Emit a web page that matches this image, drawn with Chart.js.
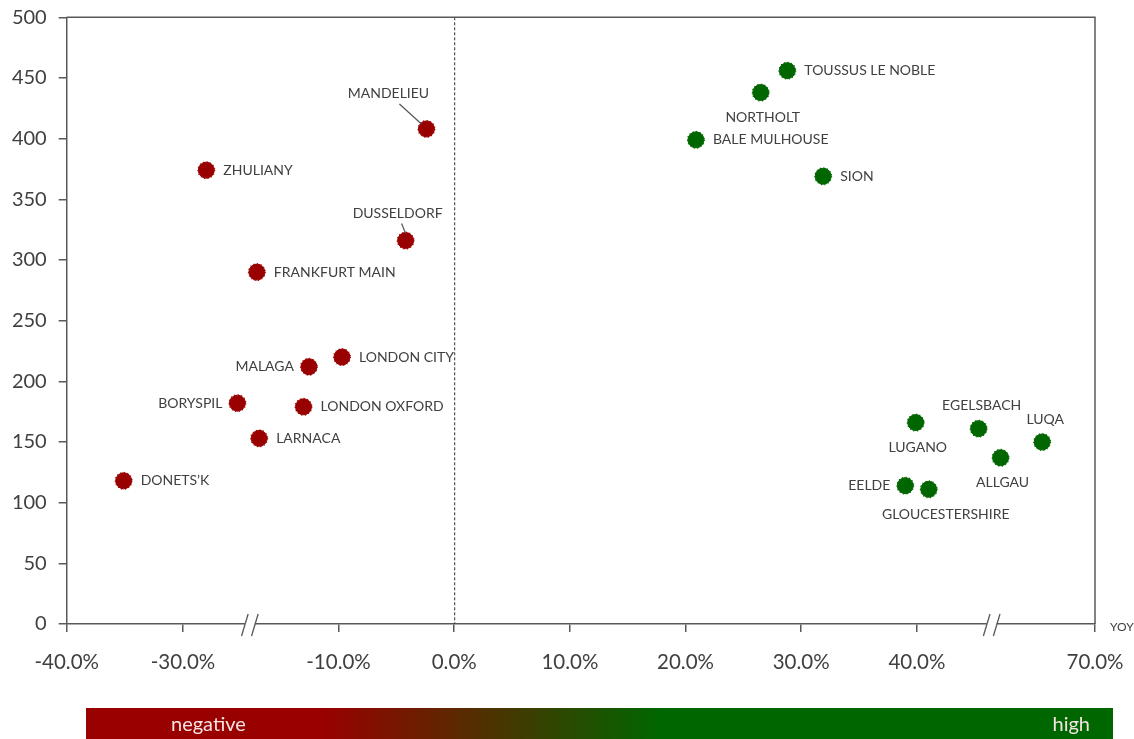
<!DOCTYPE html>
<html>
<head>
<meta charset="utf-8">
<script src="https://cdn.jsdelivr.net/npm/chart.js@4.4.1/dist/chart.umd.min.js"></script>
<style>
  html, body { margin: 0; padding: 0; background: #fff; overflow: hidden; }
  #wrap { position: relative; width: 1134px; height: 739px; }
</style>
</head>
<body>
<div id="wrap"><canvas id="chart" width="1134" height="739"></canvas></div>
<script>
// negative YoY airports
const negNames = ['MANDELIEU', 'ZHULIANY', 'DUSSELDORF', 'FRANKFURT MAIN', 'LONDON CITY', 'MALAGA', 'BORYSPIL', 'LONDON OXFORD', 'LARNACA', 'DONETS\u2019K'];
const negYoy = [-2.4, -27.0, -4.2, -20.5, -9.7, -13.8, -23.0, -14.5, -20.2, -35.1];
const negMoves = [408, 374, 316, 290, 220, 212, 182, 179, 153, 118];
const negLabelPos = ['leadFar', 'r', 'leadNear', 'r', 'r', 'l', 'l', 'r', 'r', 'r'];

// high YoY airports
const highNames = ['TOUSSUS LE NOBLE', 'NORTHOLT', 'BALE MULHOUSE', 'SION', 'LUGANO', 'EGELSBACH', 'LUQA', 'ALLGAU', 'EELDE', 'GLOUCESTERSHIRE'];
const highYoy = [28.8, 26.5, 20.9, 31.9, 39.9, 50.4, 61.1, 54.1, 39.0, 42.0];
const highMoves = [456, 438, 399, 369, 166, 161, 150, 137, 114, 111];
const highLabelPos = ['r', 'b', 'r', 'r', 'b', 'a', 'a', 'b', 'l', 'bR'];

// axis
const xTickVals = [-40, -30, -10, 0, 10, 20, 30, 40, 70];
const yTickVals = [0, 50, 100, 150, 200, 250, 300, 350, 400, 450, 500];
const xBreaks = [-21.4, 52.6];
// broken axis: value -> position along the drawn axis
const axisAnchors = [[-40, -3.35], [-30, -2.345], [-10, -1], [40, 4], [70, 5.54]];

const toAxis = (v) => {
  for (let i = 0; i < axisAnchors.length - 1; i++) {
    const [v0, a0] = axisAnchors[i], [v1, a1] = axisAnchors[i + 1];
    if (v <= v1 || i === axisAnchors.length - 2) return a0 + (v - v0) / (v1 - v0) * (a1 - a0);
  }
};

const RED = '#990000', GREEN = '#006600', INK = '#404040', AXIS = '#595959';

const place = {
  r: { dx: 17, dy: 0, align: 'left' },
  l: { dx: -15, dy: 0, align: 'right' },
  b: { dx: 2, dy: 25, align: 'center' },
  bR: { dx: 17, dy: 25, align: 'center' },
  a: { dx: 3, dy: -23, align: 'center' },
  leadFar: { dx: -38, dy: -35, align: 'center', lead: [[-27, -25], [-5, -5]] },
  leadNear: { dx: -8, dy: -27, align: 'center', lead: [[-4, -17], [0, -7]] }
};

const mk = (xs, ys) => xs.map((v, i) => ({ x: toAxis(v), y: ys[i] }));
const noPad = s => { s.paddingTop = 0; s.paddingBottom = 0; s.paddingLeft = 0; s.paddingRight = 0; };

const decor = {
  id: 'decor',
  beforeDatasetsDraw(chart) {
    const { ctx, chartArea: a, scales: { x } } = chart;
    ctx.save();
    // zero line
    const x0 = x.getPixelForValue(toAxis(0));
    ctx.strokeStyle = '#333'; ctx.lineWidth = 1; ctx.setLineDash([3, 2]);
    ctx.beginPath(); ctx.moveTo(x0 + 0.5, a.top); ctx.lineTo(x0 + 0.5, a.bottom); ctx.stroke();
    ctx.setLineDash([]);
    // top + right frame
    ctx.strokeStyle = AXIS; ctx.lineWidth = 1.5;
    ctx.beginPath(); ctx.moveTo(a.left, a.top); ctx.lineTo(a.right, a.top); ctx.lineTo(a.right, a.bottom); ctx.stroke();
    ctx.restore();
  },
  afterDatasetsDraw(chart) {
    const { ctx, chartArea: a, scales: { x } } = chart;
    ctx.save();
    // jagged marker edge
    chart.data.datasets.forEach((ds, di) => {
      chart.getDatasetMeta(di).data.forEach(p => {
        ctx.strokeStyle = ds.backgroundColor; ctx.lineWidth = 1.2; ctx.setLineDash([1, 2.6]);
        ctx.beginPath(); ctx.arc(p.x, p.y, 8.4, 0, Math.PI * 2); ctx.stroke();
      });
    });
    ctx.setLineDash([]);
    // point labels
    ctx.font = '14px Lato'; ctx.fillStyle = INK; ctx.textBaseline = 'middle';
    const groups = [[negNames, negLabelPos], [highNames, highLabelPos]];
    groups.forEach(([names, pos], di) => {
      chart.getDatasetMeta(di).data.forEach((p, i) => {
        const s = place[pos[i]];
        ctx.textAlign = s.align;
        ctx.fillText(names[i], p.x + s.dx, p.y + s.dy);
        if (s.lead) {
          ctx.strokeStyle = '#555'; ctx.lineWidth = 1.2;
          ctx.beginPath();
          ctx.moveTo(p.x + s.lead[0][0], p.y + s.lead[0][1]);
          ctx.lineTo(p.x + s.lead[1][0], p.y + s.lead[1][1]);
          ctx.stroke();
        }
      });
    });
    // axis breaks
    xBreaks.forEach(v => {
      const bx = x.getPixelForValue(toAxis(v)), by = a.bottom;
      ctx.fillStyle = '#fff'; ctx.fillRect(bx - 5, by - 2, 10, 4);
      ctx.strokeStyle = AXIS; ctx.lineWidth = 1.3;
      [-5, 5].forEach(o => {
        ctx.beginPath(); ctx.moveTo(bx + o - 3.3, by + 12); ctx.lineTo(bx + o + 3.3, by - 10); ctx.stroke();
      });
    });
    // axis title
    ctx.font = '12px Lato'; ctx.textAlign = 'left'; ctx.fillStyle = INK;
    ctx.fillText('YOY', a.right + 15, a.bottom + 3);
    // colour key bar
    const g = ctx.createLinearGradient(86, 0, 1113, 0);
    g.addColorStop(0, RED); g.addColorStop(0.23, RED); g.addColorStop(0.56, GREEN); g.addColorStop(1, GREEN);
    ctx.fillStyle = g; ctx.fillRect(86, 708, 1027, 31);
    ctx.font = '20px Lato'; ctx.fillStyle = '#f4e4e4';
    ctx.textAlign = 'left'; ctx.fillText('negative', 171, 725);
    ctx.textAlign = 'right'; ctx.fillText('high', 1090, 725);
    ctx.restore();
  }
};

new Chart(document.getElementById('chart'), {
  type: 'scatter',
  data: {
    datasets: [
      { label: 'negative', data: mk(negYoy, negMoves), backgroundColor: RED, borderColor: RED, pointRadius: 8, pointBorderWidth: 1 },
      { label: 'high', data: mk(highYoy, highMoves), backgroundColor: GREEN, borderColor: GREEN, pointRadius: 8, pointBorderWidth: 1 }
    ]
  },
  options: {
    responsive: false,
    animation: false,
    devicePixelRatio: 1,
    layout: { padding: { top: 17.3, right: 39, bottom: 0, left: 0 } },
    plugins: { legend: { display: false }, tooltip: { enabled: false } },
    scales: {
      x: {
        type: 'linear',
        min: toAxis(-40), max: toAxis(70),
        afterBuildTicks: s => { s.ticks = xTickVals.map(v => ({ value: toAxis(v) })); },
        afterFit: s => { s.height = 115; noPad(s); },
        ticks: { callback: (val, i) => xTickVals[i].toFixed(1) + '%', color: INK, font: { family: 'Lato', size: 20.5 }, padding: 18, maxRotation: 0, autoSkip: false },
        grid: { drawOnChartArea: false, drawTicks: true, tickLength: 8, color: AXIS, lineWidth: 1.5 },
        border: { display: true, color: AXIS, width: 1.5 }
      },
      y: {
        min: 0, max: 500,
        afterBuildTicks: s => { s.ticks = yTickVals.map(v => ({ value: v })); },
        afterFit: s => { s.width = 66.7; noPad(s); },
        ticks: { color: INK, font: { family: 'Lato', size: 20 }, padding: 12 },
        grid: { drawOnChartArea: false, drawTicks: true, tickLength: 8, color: AXIS, lineWidth: 1.5 },
        border: { display: true, color: AXIS, width: 1.5 }
      }
    }
  },
  plugins: [decor]
});
</script>
</body>
</html>
